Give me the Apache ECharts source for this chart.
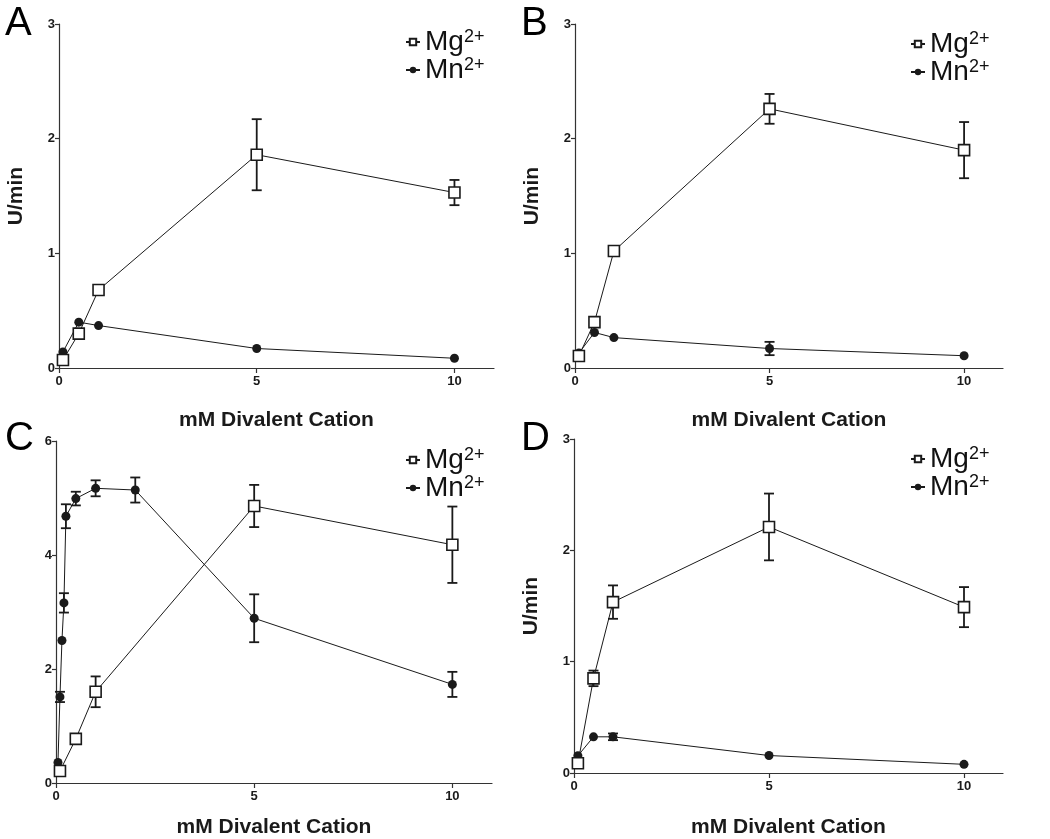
<!DOCTYPE html>
<html>
<head>
<meta charset="utf-8">
<script src="https://cdn.jsdelivr.net/npm/echarts@6/dist/echarts.min.js"></script>
<style>
html,body{margin:0;padding:0;background:#fff;}
#c{width:1050px;height:839px;}
</style>
</head>
<body>
<div id="c"></div>
<script>
// ---- data ----
const panelLetters = ['A', 'B', 'C', 'D'];
const xTicks = [0, 5, 10];
const yMaxes = [3, 3, 6, 3];
const yIntervals = [1, 1, 2, 1];

const A_x = [0.1, 0.5, 1, 5, 10];
const A_mg = [0.07, 0.30, 0.68, 1.86, 1.53];
const A_mgErr = [0, 0, 0.02, 0.31, 0.11];
const A_mn = [0.14, 0.40, 0.37, 0.17, 0.085];
const A_mnErr = [0, 0, 0, 0, 0];

const B_x = [0.1, 0.5, 1, 5, 10];
const B_mg = [0.105, 0.40, 1.02, 2.26, 1.90];
const B_mgErr = [0, 0, 0.02, 0.13, 0.245];
const B_mn = [0.13, 0.31, 0.265, 0.17, 0.107];
const B_mnErr = [0, 0, 0, 0.058, 0];

const C_mgX = [0.1, 0.5, 1, 5, 10];
const C_mg = [0.21, 0.775, 1.60, 4.86, 4.18];
const C_mgErr = [0, 0, 0.27, 0.37, 0.67];
const C_mnX = [0.05, 0.1, 0.15, 0.2, 0.25, 0.5, 1, 2, 5, 10];
const C_mn = [0.36, 1.51, 2.50, 3.16, 4.68, 4.99, 5.17, 5.14, 2.89, 1.73];
const C_mnErr = [0, 0.09, 0, 0.17, 0.21, 0.12, 0.14, 0.22, 0.42, 0.22];

const D_x = [0.1, 0.5, 1, 5, 10];
const D_mg = [0.087, 0.85, 1.535, 2.21, 1.49];
const D_mgErr = [0, 0.07, 0.15, 0.30, 0.18];
const D_mn = [0.155, 0.325, 0.325, 0.157, 0.078];
const D_mnErr = [0, 0, 0.03, 0, 0];

const panels = [
  {mgX: A_x, mg: A_mg, mgErr: A_mgErr, mnX: A_x, mn: A_mn, mnErr: A_mnErr},
  {mgX: B_x, mg: B_mg, mgErr: B_mgErr, mnX: B_x, mn: B_mn, mnErr: B_mnErr},
  {mgX: C_mgX, mg: C_mg, mgErr: C_mgErr, mnX: C_mnX, mn: C_mn, mnErr: C_mnErr},
  {mgX: D_x, mg: D_mg, mgErr: D_mgErr, mnX: D_x, mn: D_mn, mnErr: D_mnErr}
];

// ---- layout ----
const FONT = '"Liberation Sans", Arial, Helvetica, sans-serif';
const grids = [
  {left: 59, top: 24, width: 435, height: 344},
  {left: 575, top: 24, width: 428, height: 344},
  {left: 56, top: 441, width: 436, height: 343},
  {left: 574, top: 439, width: 429, height: 344}
];
const xNameGaps = [42, 42, 34, 44];
const showYName = [true, true, false, true];
const legendPos = [
  {left: 400, top: 23}, {left: 905, top: 25},
  {left: 400, top: 441}, {left: 905, top: 440}
];
const letterPos = [[5, 4], [521, 4], [5, 419], [521, 419]];

const MG = 'Mg2+', MN = 'Mn2+';
const lineColor = '#1a1a1a';

function pairs(xs, ys) { return xs.map((x, i) => [x, ys[i]]); }
function errData(xs, ys, es) {
  const out = [];
  xs.forEach((x, i) => { if (es[i] > 0) out.push([x, ys[i] - es[i], ys[i] + es[i]]); });
  return out;
}
function errRender(params, api) {
  const x = api.value(0), lo = api.value(1), hi = api.value(2);
  const pLo = api.coord([x, lo]), pHi = api.coord([x, hi]);
  const cap = 5;
  const style = {stroke: lineColor, lineWidth: 1.8};
  return {
    type: 'group',
    children: [
      {type: 'line', shape: {x1: pLo[0], y1: pLo[1], x2: pHi[0], y2: pHi[1]}, style},
      {type: 'line', shape: {x1: pLo[0] - cap, y1: pLo[1], x2: pLo[0] + cap, y2: pLo[1]}, style},
      {type: 'line', shape: {x1: pHi[0] - cap, y1: pHi[1], x2: pHi[0] + cap, y2: pHi[1]}, style}
    ]
  };
}

const axisLineStyle = {color: '#333', width: 1.2};
const xAxes = [], yAxes = [], series = [], legends = [], graphics = [];

panels.forEach((p, i) => {
  xAxes.push({
    type: 'value', gridIndex: i, min: 0, max: 11, interval: 5,
    name: 'mM Divalent Cation', nameLocation: 'middle', nameGap: xNameGaps[i],
    nameTextStyle: {fontFamily: FONT, fontWeight: 'bold', fontSize: 21, color: '#1a1a1a'},
    splitLine: {show: false},
    axisLine: {show: true, onZero: false, lineStyle: axisLineStyle},
    axisTick: {show: true, length: 5, customValues: xTicks, lineStyle: axisLineStyle},
    axisLabel: {customValues: xTicks, fontFamily: FONT, fontWeight: 'bold', fontSize: 13, color: '#1a1a1a', margin: 7}
  });
  yAxes.push({
    type: 'value', gridIndex: i, min: 0, max: yMaxes[i], interval: yIntervals[i],
    name: showYName[i] ? 'U/min' : '', nameLocation: 'middle', nameGap: 32, nameRotate: 90,
    nameTextStyle: {fontFamily: FONT, fontWeight: 'bold', fontSize: 21, color: '#1a1a1a'},
    splitLine: {show: false},
    axisLine: {show: true, onZero: false, lineStyle: axisLineStyle},
    axisTick: {show: true, length: 4, lineStyle: axisLineStyle},
    axisLabel: {fontFamily: FONT, fontWeight: 'bold', fontSize: 13, color: '#1a1a1a', margin: 4}
  });
  series.push({
    name: 'errMg' + i, type: 'custom', xAxisIndex: i, yAxisIndex: i, z: 2,
    renderItem: errRender, data: errData(p.mgX, p.mg, p.mgErr), silent: true
  });
  series.push({
    name: 'errMn' + i, type: 'custom', xAxisIndex: i, yAxisIndex: i, z: 2,
    renderItem: errRender, data: errData(p.mnX, p.mn, p.mnErr), silent: true
  });
  series.push({
    name: MG, type: 'line', xAxisIndex: i, yAxisIndex: i, z: 4,
    data: pairs(p.mgX, p.mg), symbol: 'rect', symbolSize: 11, showAllSymbol: true,
    lineStyle: {color: lineColor, width: 1},
    itemStyle: {color: '#fff', borderColor: lineColor, borderWidth: 1.6},
    animation: false
  });
  series.push({
    name: MN, type: 'line', xAxisIndex: i, yAxisIndex: i, z: 3,
    data: pairs(p.mnX, p.mn), symbol: 'circle', symbolSize: 9, showAllSymbol: true,
    lineStyle: {color: lineColor, width: 1},
    itemStyle: {color: lineColor, borderColor: lineColor, borderWidth: 0},
    animation: false
  });
  legends.push({
    orient: 'vertical', left: legendPos[i].left, top: legendPos[i].top,
    data: [MG, MN], itemWidth: 14, itemHeight: 8, itemGap: 0,
    selectedMode: false,
    formatter: function (name) {
      return name === MG ? '{a|Mg}{s|2+}' : '{a|Mn}{s|2+}';
    },
    textStyle: {
      fontFamily: FONT, color: '#111',
      rich: {
        a: {fontFamily: FONT, fontSize: 28, color: '#111', lineHeight: 28, verticalAlign: 'bottom'},
        s: {fontFamily: FONT, fontSize: 18, color: '#111', lineHeight: 28, verticalAlign: 'top', padding: [0, 0, 8, 0]}
      }
    }
  });
  graphics.push({
    type: 'text', left: letterPos[i][0], top: letterPos[i][1],
    style: {text: panelLetters[i], font: '40px ' + FONT, fill: '#000'}
  });
});

const chart = echarts.init(document.getElementById('c'), null, {renderer: 'canvas'});
chart.setOption({
  animation: false,
  backgroundColor: '#fff',
  grid: grids,
  xAxis: xAxes,
  yAxis: yAxes,
  legend: legends,
  series: series,
  graphic: graphics
});
</script>
</body>
</html>
